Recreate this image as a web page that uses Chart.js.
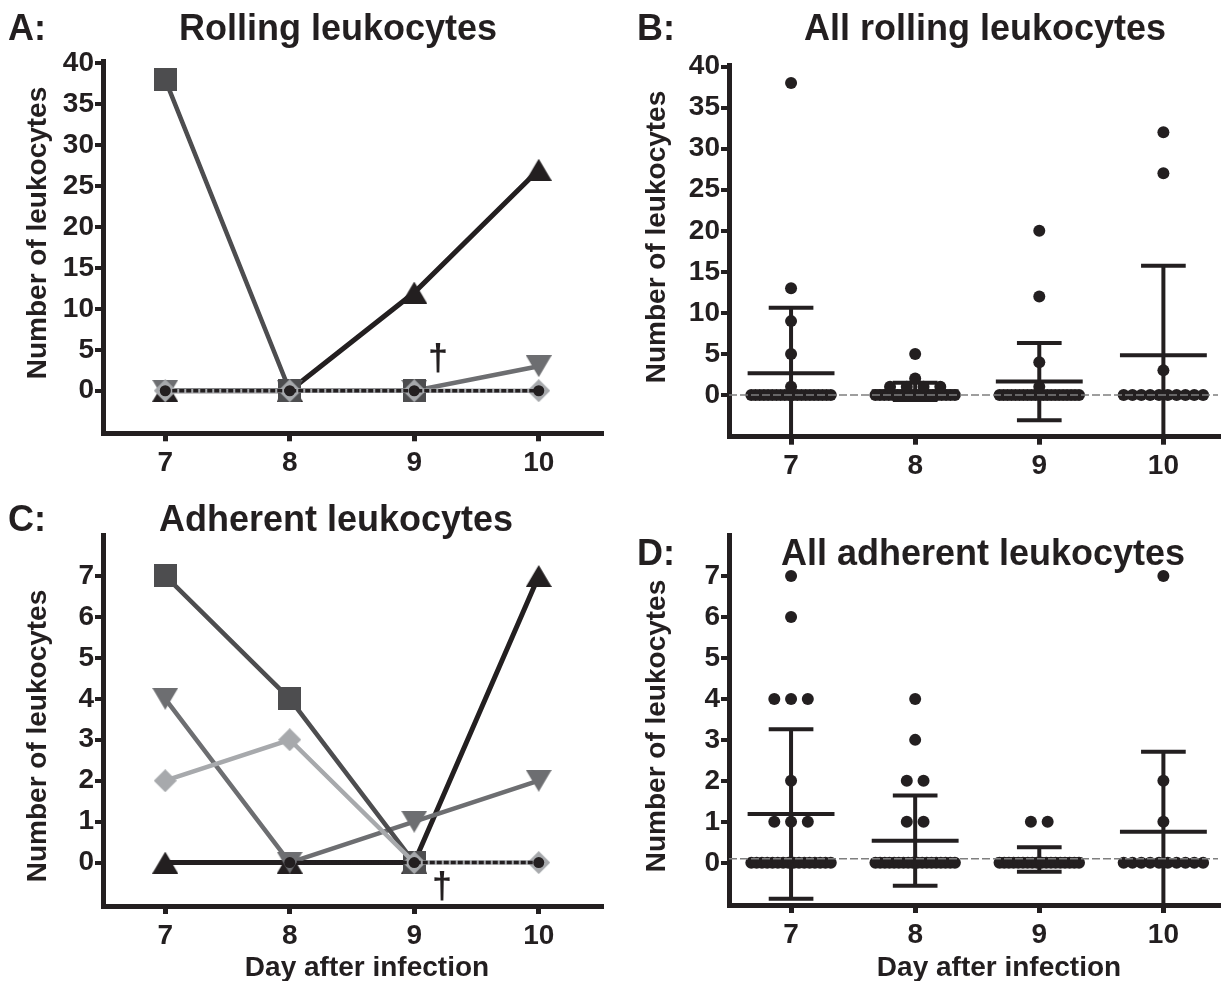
<!DOCTYPE html>
<html>
<head>
<meta charset="utf-8">
<script src="https://cdn.jsdelivr.net/npm/chart.js@4.4.1/dist/chart.umd.min.js"></script>
<style>
  body { margin: 0; background: #fff; width: 1224px; height: 981px; position: relative; overflow: hidden;
         font-family: "Liberation Sans", Arial, sans-serif; font-weight: bold; color: #231f20; }
  canvas { position: absolute; }
  .t { position: absolute; transform: translate(-50%, -50%); white-space: nowrap; line-height: 1; }
  .big { font-size: 36px; }
  .ylab { font-size: 28px; transform: translate(-50%, -50%) rotate(-90deg); }
  .xlab { font-size: 28px; }
  .dag { font-size: 36px; }
</style>
</head>
<body>
<canvas id="cA" width="612" height="470" style="left:0;top:40px"></canvas>
<canvas id="cB" width="612" height="470" style="left:612px;top:40px"></canvas>
<canvas id="cC" width="612" height="466" style="left:0;top:515px"></canvas>
<canvas id="cD" width="612" height="466" style="left:612px;top:515px"></canvas>

<div class="t big" style="left:27px;top:28px">A:</div>
<div class="t big" style="left:338px;top:28px">Rolling leukocytes</div>
<div class="t big" style="left:656px;top:28px">B:</div>
<div class="t big" style="left:985px;top:28px">All rolling leukocytes</div>
<div class="t big" style="left:27px;top:519px">C:</div>
<div class="t big" style="left:336px;top:519px">Adherent leukocytes</div>
<div class="t big" style="left:656px;top:553px">D:</div>
<div class="t big" style="left:983px;top:553px">All adherent leukocytes</div>

<div class="t ylab" style="left:37px;top:233px">Number of leukocytes</div>
<div class="t ylab" style="left:656px;top:237px">Number of leukocytes</div>
<div class="t ylab" style="left:37px;top:736px">Number of leukocytes</div>
<div class="t ylab" style="left:656px;top:726px">Number of leukocytes</div>

<div class="t xlab" style="left:367px;top:967px">Day after infection</div>
<div class="t xlab" style="left:999px;top:967px">Day after infection</div>

<div class="t dag" style="left:438px;top:358px">†</div>
<div class="t dag" style="left:442px;top:886px">†</div>

<script>
const days = [7, 8, 9, 10];

// A: rolling leukocytes, one animal per symbol
const rollSquare  = [38, 0, 0, null];
const rollUp      = [0, 0, 12, 27];
const rollDown    = [0, 0, 0, 3];
const rollDiamond = [0, 0, 0, 0];
const rollCircle  = [0, 0, 0, 0];

// C: adherent leukocytes, one animal per symbol
const adhSquare  = [7, 4, 0, null];
const adhUp      = [0, 0, 0, 7];
const adhDown    = [4, 0, 1, 2];
const adhDiamond = [2, 3, 0, 0];
const adhCircle  = [null, 0, 0, 0];

// B: all rolling leukocytes per day
const rollDay7  = [38, 13, 9, 5, 1, 0, 0, 0, 0, 0, 0, 0, 0, 0, 0, 0, 0, 0, 0, 0, 0, 0, 0, 0, 0];
const rollDay8  = [5, 2, 1, 1, 1, 1, 0, 0, 0, 0, 0, 0, 0, 0, 0, 0, 0, 0, 0, 0, 0, 0, 0, 0, 0];
const rollDay9  = [20, 12, 4, 1, 0, 0, 0, 0, 0, 0, 0, 0, 0, 0, 0, 0, 0, 0, 0, 0, 0, 0, 0, 0, 0];
const rollDay10 = [32, 27, 3, 0, 0, 0, 0, 0, 0, 0, 0, 0, 0];
const rollMean  = [2.64, 0.45, 1.63, 4.85];
const rollSD    = [8.0, 1.05, 4.7, 10.9];
const rollRef   = 0;

// D: all adherent leukocytes per day
const adhDay7  = [7, 6, 4, 4, 4, 2, 1, 1, 1, 0, 0, 0, 0, 0, 0, 0, 0, 0, 0, 0, 0, 0, 0, 0, 0];
const adhDay8  = [4, 3, 2, 2, 1, 1, 0, 0, 0, 0, 0, 0, 0, 0, 0, 0, 0, 0, 0, 0, 0, 0, 0, 0];
const adhDay9  = [1, 1, 0, 0, 0, 0, 0, 0, 0, 0, 0, 0, 0, 0, 0, 0, 0, 0, 0, 0];
const adhDay10 = [7, 2, 1, 0, 0, 0, 0, 0, 0, 0, 0, 0, 0];
const adhMean  = [1.19, 0.54, 0.08, 0.76];
const adhSD    = [2.07, 1.1, 0.3, 1.95];
const adhRef   = 0.1;

const rollTicks = [0, 5, 10, 15, 20, 25, 30, 35, 40];
const adhTicks  = [0, 1, 2, 3, 4, 5, 6, 7];

const BLACK = '#231f20', DARK = '#4d4d4f', MID = '#6d6e71', LIGHT = '#a7a9ac', DASH = '#7f7f7f';
const FONT = '"Liberation Sans", Arial, sans-serif';

// marker shapes centred on their bounding box, like the original software
function marker(kind, color, w, h) {
  const c = document.createElement('canvas');
  c.width = w; c.height = h;
  const g = c.getContext('2d');
  g.fillStyle = color;
  g.beginPath();
  if (kind === 'up') { g.moveTo(w / 2, 0); g.lineTo(w, h); g.lineTo(0, h); }
  else if (kind === 'down') { g.moveTo(0, 0); g.lineTo(w, 0); g.lineTo(w / 2, h); }
  else if (kind === 'diamond') { g.moveTo(w / 2, 0); g.lineTo(w, h / 2); g.lineTo(w / 2, h); g.lineTo(0, h / 2); }
  else g.rect(0, 0, w, h);
  g.closePath();
  g.fill();
  return c;
}

function track(values, color, style, width, dash) {
  return {
    data: values.map((v, i) => ({x: days[i], y: v})),
    borderColor: color,
    backgroundColor: color,
    borderWidth: width,
    borderDash: dash || [],
    pointStyle: style,
    pointRadius: 11,
    pointBackgroundColor: color,
    pointBorderWidth: 0,
    tension: 0
  };
}

function animalSets(circle, diamond, square, down, up) {
  // first dataset is drawn on top
  return [
    Object.assign(track(circle, BLACK, 'circle', 3.5, [5, 2]), {pointRadius: 5.5}),
    track(diamond, LIGHT, marker('diamond', LIGHT, 23, 23), 4.5),
    track(square, DARK, marker('square', DARK, 23, 23), 4.5),
    track(down, MID, marker('down', MID, 26, 22), 4.5),
    track(up, BLACK, marker('up', BLACK, 26, 22), 5)
  ];
}

// spread equal values sideways around their day
function spread(lists) {
  const pts = [];
  lists.forEach((vals, i) => {
    const groups = {};
    vals.forEach(v => (groups[v] = groups[v] || []).push(v));
    Object.values(groups).forEach(g => {
      const n = g.length;
      const step = n > 6 ? 0.64 / (n - 1) : 0.135;
      g.forEach((v, k) => pts.push({x: days[i] + (k - (n - 1) / 2) * step, y: v}));
    });
  });
  return pts;
}

function errorBars(mean, sd) {
  const pts = [];
  days.forEach((d, i) => {
    const lo = mean[i] - sd[i], hi = mean[i] + sd[i];
    pts.push({x: d, y: lo}, {x: d, y: hi}, {x: d, y: null});
    pts.push({x: d - 0.18, y: hi}, {x: d + 0.18, y: hi}, {x: d, y: null});
    pts.push({x: d - 0.18, y: lo}, {x: d + 0.18, y: lo}, {x: d, y: null});
    pts.push({x: d - 0.35, y: mean[i]}, {x: d + 0.35, y: mean[i]}, {x: d, y: null});
  });
  return pts;
}

function columnSets(lists, mean, sd, ref) {
  return [
    {data: [{x: 6.5, y: ref}, {x: 10.5, y: ref}], borderColor: DASH, borderWidth: 1.5,
     borderDash: [8, 3], pointRadius: 0},
    {data: spread(lists), showLine: false, pointRadius: 6, pointBackgroundColor: BLACK,
     pointBorderWidth: 0, borderColor: BLACK},
    {data: errorBars(mean, sd), borderColor: BLACK, borderWidth: 4, pointRadius: 0}
  ];
}

function tickFont() {
  return {family: FONT, size: 28, weight: 'bold'};
}

function panel(id, datasets, o) {
  new Chart(document.getElementById(id), {
    type: 'line',
    data: {datasets: datasets},
    options: {
      responsive: false,
      animation: false,
      devicePixelRatio: 1,
      layout: {padding: {left: 0, right: o.padRight, top: o.padTop, bottom: 0}},
      plugins: {legend: {display: false}, tooltip: {enabled: false}},
      scales: {
        x: {
          type: 'linear',
          min: 6.5,
          max: o.xMax,
          afterBuildTicks: s => { s.ticks = days.map(v => ({value: v})); },
          afterFit: s => { s.height = o.xH; },
          grid: {drawOnChartArea: false, color: BLACK, lineWidth: 5, tickLength: 8},
          border: {color: BLACK, width: 5},
          ticks: {color: BLACK, font: tickFont(), padding: 5, maxRotation: 0, autoSkip: false}
        },
        y: {
          type: 'linear',
          min: o.yMin,
          max: o.yMax,
          afterBuildTicks: s => { s.ticks = o.yTicks.map(v => ({value: v})); },
          afterFit: s => { s.width = o.yW; },
          grid: {drawOnChartArea: false, color: BLACK, lineWidth: 4, tickLength: 8},
          border: {color: BLACK, width: 5},
          ticks: {color: BLACK, font: tickFont(), padding: 1, autoSkip: false}
        }
      }
    }
  });
}

panel('cA', animalSets(rollCircle, rollDiamond, rollSquare, rollDown, rollUp),
  {xMax: 10.5, yMin: -5.2, yMax: 40.2, yTicks: rollTicks, yW: 103, xH: 76.7, padTop: 21.7, padRight: 6});

panel('cB', columnSets([rollDay7, rollDay8, rollDay9, rollDay10], rollMean, rollSD, rollRef),
  {xMax: 10.44, yMin: -5.08, yMax: 40.2, yTicks: rollTicks, yW: 117, xH: 73.3, padTop: 25, padRight: 0});

panel('cC', animalSets(adhCircle, adhDiamond, adhSquare, adhDown, adhUp),
  {xMax: 10.5, yMin: -1.06, yMax: 8.0, yTicks: adhTicks, yW: 103, xH: 75, padTop: 20, padRight: 6});

panel('cD', columnSets([adhDay7, adhDay8, adhDay9, adhDay10], adhMean, adhSD, adhRef),
  {xMax: 10.44, yMin: -1.03, yMax: 8.0, yTicks: adhTicks, yW: 117, xH: 76, padTop: 20, padRight: 0});
</script>
</body>
</html>
